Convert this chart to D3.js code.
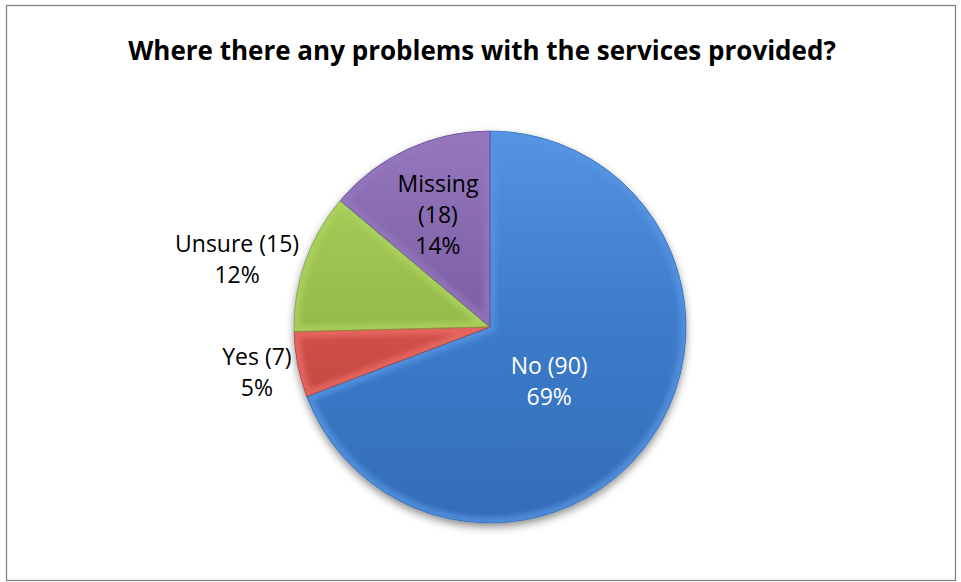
<!DOCTYPE html>
<html>
<head>
<meta charset="utf-8">
<script src="https://cdn.jsdelivr.net/npm/d3@7"></script>
<style>
  body { margin: 0; background: #fff; }
  text { font-family: "Open Sans", sans-serif; }
</style>
</head>
<body>
<div id="chart"></div>
<script>
var svgWidth = 961;
var svgHeight = 582;

// chart data
var categories = ["No", "Yes", "Unsure", "Missing"];
var counts = [90, 7, 15, 18];
var percents = ["69%", "5%", "12%", "14%"];
var sliceColors = ["#3D7DCC", "#D4514B", "#98BD4B", "#7D60A6"];
var lightColors = ["#5594E2", "#EC6D65", "#ADD35F", "#9477BD"];
var darkColors = ["#336DB7", "#AE3E39", "#7E9F3D", "#644A8D"];
var insideLabel = [true, false, false, true];

var cx = 490, cy = 327, radius = 196;

var svg = d3.select("#chart").append("svg")
  .attr("width", svgWidth)
  .attr("height", svgHeight);

// outer frame
svg.append("rect")
  .attr("x", 6.5).attr("y", 5.5)
  .attr("width", 949).attr("height", 575)
  .attr("fill", "#fff")
  .attr("stroke", "#868686")
  .attr("stroke-width", 1.3);

svg.append("text")
  .attr("x", 482)
  .attr("y", 60)
  .attr("text-anchor", "middle")
  .style("font-size", "26px")
  .style("font-weight", "bold")
  .attr("fill", "#000")
  .text("Where there any problems with the services provided?");

var defs = svg.append("defs");

var shadow = defs.append("filter").attr("id", "shadow")
  .attr("x", "-20%").attr("y", "-20%").attr("width", "140%").attr("height", "140%");
shadow.append("feDropShadow")
  .attr("dx", 0).attr("dy", 4).attr("stdDeviation", 4)
  .attr("flood-color", "#000").attr("flood-opacity", 0.45);

var soft = defs.append("filter").attr("id", "soft")
  .attr("x", "-10%").attr("y", "-10%").attr("width", "120%").attr("height", "120%");
soft.append("feGaussianBlur").attr("stdDeviation", 2.5);

categories.forEach(function(c, i) {
  var g = defs.append("linearGradient").attr("id", "grad" + i)
    .attr("gradientUnits", "userSpaceOnUse")
    .attr("x1", 0).attr("y1", -radius).attr("x2", 0).attr("y2", radius);
  g.append("stop").attr("offset", "0%").attr("stop-color", lightColors[i]);
  g.append("stop").attr("offset", "45%").attr("stop-color", sliceColors[i]);
  g.append("stop").attr("offset", "100%").attr("stop-color", darkColors[i]);
});

var data = categories.map(function(c, i) {
  return { name: c, count: counts[i], pct: percents[i], i: i };
});

var pie = d3.pie().sort(null).value(function(d) { return d.count; });
var arc = d3.arc().innerRadius(0).outerRadius(radius);

var arcs = pie(data);

arcs.forEach(function(d) {
  defs.append("clipPath").attr("id", "clip" + d.data.i)
    .append("path").attr("d", arc(d));
});

var pieGroup = svg.append("g")
  .attr("transform", "translate(" + cx + "," + cy + ")");

var shadowGroup = pieGroup.append("g").attr("filter", "url(#shadow)");
shadowGroup.append("circle").attr("r", radius).attr("fill", "#3D7DCC");

pieGroup.selectAll("path.slice")
  .data(arcs)
  .enter()
  .append("path")
  .attr("class", "slice")
  .attr("d", arc)
  .attr("fill", function(d) { return "url(#grad" + d.data.i + ")"; });

// bevel: soft light band inside every slice edge
pieGroup.selectAll("g.bevel")
  .data(arcs)
  .enter()
  .append("g")
  .attr("class", "bevel")
  .attr("clip-path", function(d) { return "url(#clip" + d.data.i + ")"; })
  .append("path")
  .attr("d", arc)
  .attr("fill", "none")
  .attr("stroke", function(d) { return lightColors[d.data.i]; })
  .attr("stroke-width", 12)
  .attr("stroke-opacity", 0.75)
  .attr("filter", "url(#soft)");

pieGroup.selectAll("path.edge")
  .data(arcs)
  .enter()
  .append("path")
  .attr("class", "edge")
  .attr("d", arc)
  .attr("fill", "none")
  .attr("stroke", function(d) { return darkColors[d.data.i]; })
  .attr("stroke-opacity", 0.8)
  .attr("stroke-width", 0.8);

// labels
var lineH = 31;

arcs.forEach(function(d) {
  var lines, cxL, cyL;
  var a = (d.startAngle + d.endAngle) / 2;
  var t = pieGroup.append("text")
    .style("font-size", "23px")
    .attr("text-anchor", "middle");
  if (d.data.name === "Missing") {
    lines = [d.data.name, "(" + d.data.count + ")", d.data.pct];
  } else {
    lines = [d.data.name + " (" + d.data.count + ")", d.data.pct];
  }
  lines.forEach(function(l, k) {
    t.append("tspan").attr("x", 0).attr("dy", k === 0 ? 0 : lineH).text(l);
  });
  var w = t.node().getBBox().width;
  var hBlock = 16 + lineH * (lines.length - 1);
  if (insideLabel[d.data.i]) {
    var r0 = d.data.name === "No" ? radius * 0.41 : radius * 0.63;
    cxL = Math.sin(a) * r0 + (d.data.name === "No" ? -7 : 0);
    cyL = -Math.cos(a) * r0 + (d.data.name === "No" ? 9 : 0);
    t.attr("fill", d.data.name === "No" ? "#fff" : "#000");
  } else {
    var px = Math.sin(a) * radius, py = -Math.cos(a) * radius;
    cxL = px - w / 2 - 6;
    cyL = py + 4 + 20 * (-Math.cos(a));
    t.attr("fill", "#000");
  }
  t.attr("transform", "translate(" + cxL + "," + (cyL - hBlock / 2 + 16) + ")");
});
</script>
</body>
</html>
